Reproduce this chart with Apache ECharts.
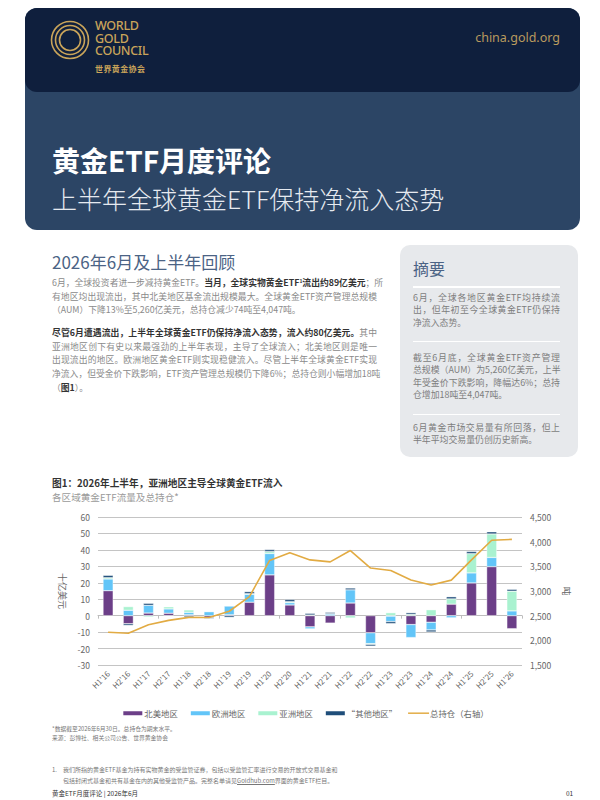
<!DOCTYPE html>
<html>
<head>
<meta charset="utf-8">
<script src="https://cdn.jsdelivr.net/npm/echarts@6/dist/echarts.min.js"></script>
<style>
  html, body { margin: 0; padding: 0; background: #fff; }
  body { width: 600px; height: 800px; position: relative; overflow: hidden;
         font-family: "Noto Sans CJK SC", "Noto Sans", sans-serif; }
  .abs { position: absolute; white-space: nowrap; }
  .hdr { position: absolute; left: 25px; top: 8px; width: 555px; height: 222px;
         background: #2c4565; border-radius: 12px; overflow: hidden; }
  .band { position: absolute; left: 0; top: 0; width: 100%; height: 84px; background: #0f1f3d;
          border-radius: 0 0 12px 12px; }
  .wgc { position: absolute; left: 70px; font-family: 'Noto Sans'; font-size: 12.5px; line-height: 12px;
         color: #c9a45a; font-weight: 500; letter-spacing: -0.3px; white-space: nowrap; }
  .para { position: absolute; left: 52px; width: 325px; font-size: 8.8px; color: #8a8a8a; line-height: 13.7px; }
  .para div, .box div.l { text-align: justify; text-align-last: justify; white-space: nowrap; }
  .para div.end, .box div.end { text-align-last: left; }
  .para b, .box b { color: #333; }
  .box { position: absolute; left: 400px; top: 245px; width: 178px; height: 212px; background: #e7e9ec; border-radius: 10px; }
  .bp { position: absolute; left: 13px; width: 147px; font-size: 8.9px; color: #7d7d7d; line-height: 12.6px; }
  .sep { position: absolute; left: 13px; width: 147px; height: 1.5px; background: #fff; }
  sup { font-size: 5px; vertical-align: 3px; line-height: 0; }
</style>
</head>
<body>
<div class="hdr">
  <div class="band"></div>
  <svg style="position:absolute;left:25px;top:12px" width="40" height="40" viewBox="0 0 40 40">
    <g fill="none" stroke="#c9a45a" stroke-width="1.6">
      <circle cx="20" cy="20" r="18.5"/>
      <circle cx="20" cy="20" r="14.5"/>
      <circle cx="20" cy="20" r="10.5"/>
    </g>
  </svg>
  <div class="wgc" style="top:12px">WORLD</div>
  <div class="wgc" style="top:24.6px">GOLD</div>
  <div class="wgc" style="top:37.2px">COUNCIL</div>
  <div class="abs" style="left:70px;top:55px;font-size:8px;color:#c9a45a;font-weight:700;letter-spacing:0.4px">世界黄金协会</div>
  <div class="abs" style="right:20px;top:21px;font-family:'Noto Sans';font-size:12.5px;color:#b99a5e">china.gold.org</div>
  <div class="abs" style="left:27px;top:132px;font-size:28px;font-weight:700;color:#fff">黄金ETF月度评论</div>
  <div class="abs" style="left:27px;top:172px;font-size:25px;font-weight:300;color:#e6eaf0">上半年全球黄金ETF保持净流入态势</div>
</div>

<div class="abs" style="left:52px;top:249px;font-size:17px;color:#4b6385">2026年6月及上半年回顾</div>
<div class="para" style="top:276px">
  <div>6月，全球投资者进一步减持黄金ETF。<b>当月，全球实物黄金ETF<sup>1</sup>流出约89亿美元</b>；所</div>
  <div>有地区均出现流出，其中北美地区基金流出规模最大。全球黄金ETF资产管理总规模</div>
  <div class="end">（AUM）下降13%至5,260亿美元，总持仓减少74吨至4,047吨。</div>
</div>
<div class="para" style="top:326px">
  <div><b>尽管6月遭遇流出，上半年全球黄金ETF仍保持净流入态势，流入约80亿美元。</b>其中</div>
  <div>亚洲地区创下有史以来最强劲的上半年表现，主导了全球流入；北美地区则是唯一</div>
  <div>出现流出的地区。欧洲地区黄金ETF则实现稳健流入。尽管上半年全球黄金ETF实现</div>
  <div>净流入，但受金价下跌影响，ETF资产管理总规模仍下降6%；总持仓则小幅增加18吨</div>
  <div class="end">（<b>图1</b>）。</div>
</div>

<div class="box">
  <div class="abs" style="left:13px;top:11px;font-size:16px;color:#4b6385">摘要</div>
  <div class="sep" style="top:41px"></div>
  <div class="bp" style="top:46.5px">
    <div class="l">6月，全球各地区黄金ETF均持续流</div>
    <div class="l">出，但年初至今全球黄金ETF仍保持</div>
    <div class="l end">净流入态势。</div>
  </div>
  <div class="sep" style="top:95.5px"></div>
  <div class="bp" style="top:106.5px">
    <div class="l">截至6月底，全球黄金ETF资产管理</div>
    <div class="l">总规模（AUM）为5,260亿美元，上半</div>
    <div class="l">年受金价下跌影响，降幅达6%；总持</div>
    <div class="l end">仓增加18吨至4,047吨。</div>
  </div>
  <div class="sep" style="top:168.5px"></div>
  <div class="bp" style="top:176.5px">
    <div class="l">6月黄金市场交易量有所回落，但上</div>
    <div class="l end">半年平均交易量仍创历史新高。</div>
  </div>
</div>

<div class="abs" style="left:52px;top:476px;font-size:9.7px;font-weight:700;color:#333">图1：2026年上半年，亚洲地区主导全球黄金ETF流入</div>
<div class="abs" style="left:52px;top:490px;font-size:9.6px;color:#9a9a9a">各区域黄金ETF流量及总持仓*</div>

<div id="chart" style="position:absolute;left:30px;top:505px;width:550px;height:215px"></div>

<div class="abs" style="left:52px;top:724px;font-size:5.8px;color:#777;line-height:9px">*数据截至2026年6月30日。总持仓为期末水平。<br>来源：彭博社、相关公司公告、世界黄金协会</div>
<div class="abs" style="left:52px;top:764px;font-size:6px;color:#777;line-height:11px">1.</div>
<div class="abs" style="left:63px;top:764px;font-size:6px;color:#777;line-height:11px">我们所指的黄金ETF基金为持有实物黄金的受监管证券，包括以受监管汇率进行交易的开放式交易基金和<br>包括封闭式基金和共有基金在内的其他受监管产品。完整名单请见<u>Goldhub.com</u>界面的黄金ETF栏目。</div>
<div class="abs" style="left:52px;top:789px;font-size:6.5px;line-height:8px;color:#333">黄金ETF月度评论 | 2026年6月</div>
<div class="abs" style="left:566px;top:789px;font-size:6.5px;line-height:8px;color:#333">01</div>

<script>
const categories = ["H1'16", "H2'16", "H1'17", "H2'17", "H1'18", "H2'18", "H1'19", "H2'19", "H1'20", "H2'20",
  "H1'21", "H2'21", "H1'22", "H2'22", "H1'23", "H2'23", "H1'24", "H2'24", "H1'25", "H2'25", "H1'26"]

// fund flows, US$bn
const northAmerica = [15.2, -4.9, 1.6, 1.5, 0.5, -1.2, 0.5, 8.2, 24.8, 6.5, -6.8, -4.5, 7.7, -10.4, -0.3, -5.4, -4.0, 7.0, 19.9, 29.8, -7.9]
const europe = [7.1, 3.3, 4.7, 2.6, 1.5, 2.4, 5.4, 4.8, 13.0, 1.4, -1.2, 1.0, 8.0, -6.6, -3.3, -7.9, -4.7, -1.3, 6.1, 5.6, 2.9]
const asia = [0.8, 2.2, -0.8, 1.3, 1.5, 0.3, 0.2, 0.4, 1.2, 0.6, 0.4, 0.2, -1.4, -0.5, 1.8, 0.8, 3.6, 3.2, 11.7, 14.3, 12.0]
const other = [1.4, -1.0, 1.2, -0.3, -0.8, -0.5, -1.0, 1.2, 1.2, 1.3, 1.0, 0.8, 1.1, -1.0, -1.2, 1.0, -1.2, 1.3, 1.3, 1.3, 1.1]

// total holdings, tonnes (right axis)
const holdings = [2163, 2143, 2315, 2405, 2465, 2462, 2590, 2885, 3620, 3775, 3630, 3590, 3820, 3465, 3415, 3225, 3120, 3220, 3630, 4029, 4047]

const leftTicks = { min: -30, max: 60, interval: 10 }
const rightTicks = { min: 1500, max: 4500, interval: 500 }

const names = ['北美地区', '欧洲地区', '亚洲地区', '“其他地区”', '总持仓（右轴）']
const colors = ['#6c3f88', '#62c5f8', '#a9f2d0', '#1f4e7a', '#e2ab43']

const axisText = { color: '#666', fontSize: 8.5, fontFamily: 'Noto Sans CJK SC' }

function barSeries(name, data, color) {
  return {
    name: name,
    type: 'bar',
    stack: 'flow',
    barWidth: '50%',
    data: data,
    itemStyle: { color: color, borderColor: '#fff', borderWidth: 0.4 },
  }
}

const chart = echarts.init(document.getElementById('chart'), null, { renderer: 'svg' })
chart.setOption({
  animation: false,
  textStyle: { fontFamily: 'Noto Sans CJK SC' },
  grid: { left: 68, right: 58, top: 12, bottom: 55 },
  legend: {
    top: 199,
    left: 'center',
    itemWidth: 21,
    itemHeight: 6,
    itemGap: 11,
    textStyle: { color: '#666', fontSize: 8.4, padding: [0, 0, 0, -4] },
    data: [
      { name: names[0], icon: 'rect' },
      { name: names[1], icon: 'rect' },
      { name: names[2], icon: 'rect' },
      { name: names[3], icon: 'rect' },
      { name: names[4], icon: 'path://M0,0h20v1.4h-20z' },
    ],
  },
  xAxis: [
    {
      type: 'category',
      data: categories,
      axisLine: { show: false, onZero: false },
      axisTick: { show: false },
      axisLabel: Object.assign({ rotate: 45, margin: 7, interval: 0 }, axisText, { fontSize: 7.8 }),
    },
    {
      type: 'category',
      data: categories,
      position: 'bottom',
      axisLine: { show: true, onZero: true, lineStyle: { color: '#bdbdbd', width: 1 } },
      axisTick: { show: true, length: 3, lineStyle: { color: '#bdbdbd' } },
      axisLabel: { show: false },
    },
  ],
  yAxis: [
    {
      type: 'value',
      min: leftTicks.min,
      max: leftTicks.max,
      interval: leftTicks.interval,
      name: '十亿美元',
      nameLocation: 'middle',
      nameGap: 30,
      nameRotate: -90,
      nameTextStyle: { color: '#666', fontSize: 9 },
      axisLabel: Object.assign({ margin: 8 }, axisText),
      splitLine: { lineStyle: { color: '#c4c4c4', width: 1 } },
    },
    {
      type: 'value',
      min: rightTicks.min,
      max: rightTicks.max,
      interval: rightTicks.interval,
      name: '吨',
      nameLocation: 'middle',
      nameGap: 37,
      nameRotate: -90,
      nameTextStyle: { color: '#666', fontSize: 9 },
      axisLabel: Object.assign({
        margin: 8,
        formatter: (v) => v.toLocaleString('en-US'),
      }, axisText),
      splitLine: { show: false },
    },
  ],
  series: [
    barSeries(names[0], northAmerica, colors[0]),
    barSeries(names[1], europe, colors[1]),
    barSeries(names[2], asia, colors[2]),
    barSeries(names[3], other, colors[3]),
    {
      name: names[4],
      type: 'line',
      yAxisIndex: 1,
      data: holdings,
      symbol: 'none',
      lineStyle: { color: colors[4], width: 1.6 },
      itemStyle: { color: colors[4] },
      z: 5,
    },
  ],
})
</script>
</body>
</html>
